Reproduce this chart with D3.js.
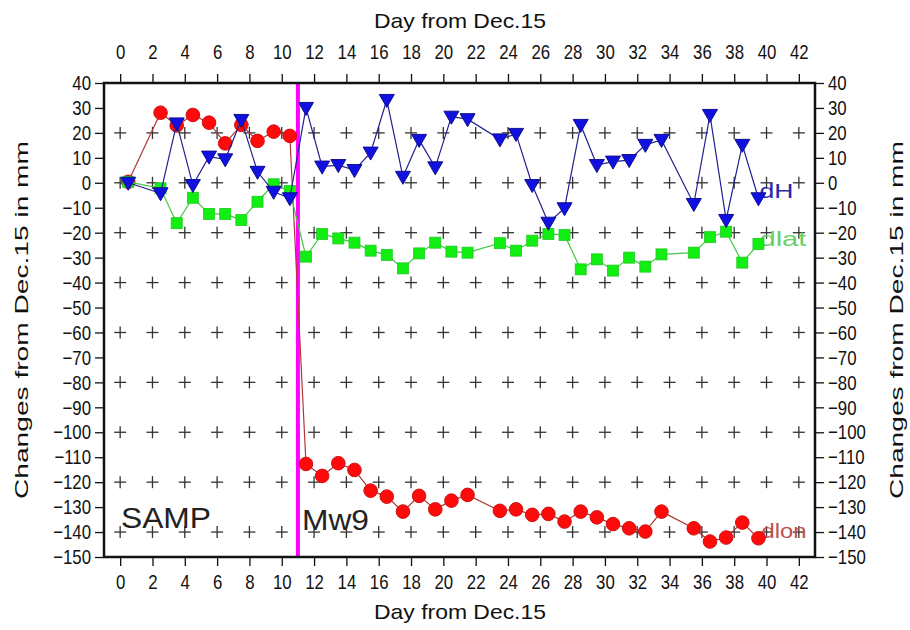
<!DOCTYPE html>
<html>
<head>
<meta charset="utf-8">
<script src="https://cdn.jsdelivr.net/npm/d3@7"></script>
<style>
  html, body { margin: 0; padding: 0; background: #fff; }
  svg { display: block; }
  text { font-family: "Liberation Sans", Arial, sans-serif; fill: #111; }
</style>
</head>
<body>
<svg id="chart" width="910" height="630"></svg>
<script>
// Days since Dec. 15 at which each daily solution is plotted
const days = [0.5, 2.5, 3.5, 4.5, 5.5, 6.5, 7.5, 8.5, 9.5, 10.5,
  11.5, 12.5, 13.5, 14.5, 15.5, 16.5, 17.5, 18.5, 19.5, 20.5, 21.5,
  23.5, 24.5, 25.5, 26.5, 27.5, 28.5, 29.5, 30.5, 31.5, 32.5, 33.5,
  35.5, 36.5, 37.5, 38.5, 39.5];

// Displacements in mm relative to Dec. 15
const dH = [0, -4.2, 23.8, -0.9, 10.5, 9.4, 25.2, 4.4, -3.6, -6.2,
  30, 6.5, 7.1, 5.1, 12.1, 33.2, 2.4, 17.2, 6.2, 26.5, 25.5,
  17.4, 19.6, -0.9, -16, -10.2, 23.2, 7.1, 8.5, 9.1, 15.2, 17.2,
  -8.5, 27.2, -14.9, 15.2, -6.2];
const dlat = [0.4, -2.2, -16.2, -6, -12.5, -12.5, -14.9, -7.6, -0.6, -3.3,
  -29.6, -20.5, -22.3, -24, -27.2, -28.9, -34.3, -28.3, -24, -27.6, -28,
  -24.2, -27.2, -23.2, -20.5, -20.9, -34.7, -30.7, -35.2, -30, -33.6, -28.7,
  -28, -21.8, -19.6, -32, -24.5];
const dlon = [0.4, 28.1, 23, 27.2, 24.1, 15.8, 23.2, 16.8, 20.5, 18.8,
  -112.7, -117.5, -112.4, -115.1, -123.4, -125.8, -131.8, -125.5, -130.9, -127.4, -125.1,
  -131.5, -130.9, -133.1, -132.7, -135.8, -131.8, -134.1, -136.8, -138.5, -139.8, -131.8,
  -138.5, -143.8, -142.2, -136.2, -142.5];

// Axis ticks
const xTicks = d3.range(0, 43, 2);
const yTicks = d3.range(-150, 41, 10);
const gridX = d3.range(0, 43, 2);
const gridY = d3.range(-140, 21, 20);

const quakeDay = 11;
const stationName = "SAMP";
const eventName = "Mw9";
const xTitle = "Day from Dec.15";
const yTitle = "Changes from Dec.15 in mm";

const svg = d3.select("#chart");
svg.append("rect").attr("width", 910).attr("height", 630).attr("fill", "#fff");

const x = d3.scaleLinear().domain([-1, 43]).range([104, 815]);
const y = d3.scaleLinear().domain([-150, 40]).range([557, 83]);

// Narrow the glyphs of a text selection to a share of their natural width
function condense(sel, factor) {
  sel.each(function () {
    const w = this.getComputedTextLength();
    d3.select(this).attr("textLength", w * factor).attr("lengthAdjust", "spacingAndGlyphs");
  });
}

// "+" grid marks
const cross = svg.append("g").attr("stroke", "#333").attr("stroke-width", 1.3);
gridY.forEach(v => gridX.forEach(d => {
  const cx = x(d), cy = y(v);
  cross.append("line").attr("x1", cx - 6).attr("x2", cx + 6).attr("y1", cy).attr("y2", cy);
  cross.append("line").attr("x1", cx).attr("x2", cx).attr("y1", cy - 6).attr("y2", cy + 6);
}));

// Axes
function styleAxis(g) {
  g.selectAll("path").remove();
  g.selectAll("line").attr("stroke", "#111").attr("stroke-width", 1.3);
  g.selectAll("text").attr("font-size", 21).attr("fill", "#000")
    .style("font-family", '"Liberation Sans", Arial, sans-serif')
    .call(condense, 0.8);
}
svg.append("g").attr("transform", `translate(0,${y(-150)})`)
  .call(d3.axisBottom(x).tickValues(xTicks).tickSize(9).tickPadding(8)).call(styleAxis);
svg.append("g").attr("transform", `translate(0,${y(40)})`)
  .call(d3.axisTop(x).tickValues(xTicks).tickSize(9).tickPadding(15)).call(styleAxis);
svg.append("g").attr("transform", `translate(${x(-1)},0)`)
  .call(d3.axisLeft(y).tickValues(yTicks).tickSize(9).tickPadding(4)).call(styleAxis);
svg.append("g").attr("transform", `translate(${x(43)},0)`)
  .call(d3.axisRight(y).tickValues(yTicks).tickSize(9).tickPadding(4)).call(styleAxis);

// Axis titles
svg.append("text").attr("x", 460).attr("y", 28).attr("text-anchor", "middle")
  .attr("font-size", 21).text(xTitle)
  .attr("textLength", 172).attr("lengthAdjust", "spacingAndGlyphs");
svg.append("text").attr("x", 460).attr("y", 619).attr("text-anchor", "middle")
  .attr("font-size", 21).text(xTitle)
  .attr("textLength", 172).attr("lengthAdjust", "spacingAndGlyphs");
const midY = (y(40) + y(-150)) / 2;
svg.append("text").attr("transform", `translate(28,${midY}) rotate(-90)`)
  .attr("text-anchor", "middle").attr("font-size", 19).text(yTitle)
  .attr("textLength", 358).attr("lengthAdjust", "spacingAndGlyphs");
svg.append("text").attr("transform", `translate(903,${midY}) rotate(-90)`)
  .attr("text-anchor", "middle").attr("font-size", 19).text(yTitle)
  .attr("textLength", 358).attr("lengthAdjust", "spacingAndGlyphs");

// Earthquake marker
svg.append("line").attr("x1", x(quakeDay)).attr("x2", x(quakeDay))
  .attr("y1", y(40)).attr("y2", y(-150))
  .attr("stroke", "#ff00ff").attr("stroke-width", 4);

// Series labels sit just right of the last day, under the markers
const lastX = x(days[days.length - 1]);
const labelFont = '"Liberation Sans", Arial, sans-serif';
svg.append("text").attr("x", lastX + 1).attr("y", 198)
  .attr("font-size", 21).style("fill", "#2a2aa8").style("font-family", labelFont)
  .text("dH").attr("textLength", 34).attr("lengthAdjust", "spacingAndGlyphs");
svg.append("text").attr("x", lastX + 1).attr("y", 246)
  .attr("font-size", 21).style("fill", "#66d066").style("font-family", labelFont)
  .text("dlat").attr("textLength", 47).attr("lengthAdjust", "spacingAndGlyphs");
svg.append("text").attr("x", lastX + 3).attr("y", 538)
  .attr("font-size", 21).style("fill", "#c05050").style("font-family", labelFont)
  .text("dlon").attr("textLength", 45).attr("lengthAdjust", "spacingAndGlyphs");

const line = vals => d3.line().x((d, i) => x(days[i])).y(d => y(d))(vals);

// dlon: red circles
svg.append("path").attr("d", line(dlon)).attr("fill", "none")
  .attr("stroke", "#b03838").attr("stroke-width", 1.2);
svg.append("g").selectAll("circle").data(dlon).join("circle")
  .attr("cx", (d, i) => x(days[i])).attr("cy", d => y(d)).attr("r", 6.8)
  .attr("fill", "#ff0a0a").attr("stroke", "#d01010").attr("stroke-width", 1);

// dlat: green squares
svg.append("path").attr("d", line(dlat)).attr("fill", "none")
  .attr("stroke", "#44c844").attr("stroke-width", 1.2);
svg.append("g").selectAll("rect").data(dlat).join("rect")
  .attr("x", (d, i) => x(days[i]) - 5.5).attr("y", d => y(d) - 5.5)
  .attr("width", 11).attr("height", 11)
  .attr("fill", "#11ee11").attr("stroke", "#22c822").attr("stroke-width", 0.8);

// dH: blue inverted triangles
svg.append("path").attr("d", line(dH)).attr("fill", "none")
  .attr("stroke", "#202090").attr("stroke-width", 1.2);
svg.append("g").selectAll("path").data(dH).join("path")
  .attr("transform", (d, i) => `translate(${x(days[i])},${y(d)})`)
  .attr("d", "M-7.5,-5.5L7.5,-5.5L0,7.5Z")
  .attr("fill", "#1010e0").attr("stroke", "#101090").attr("stroke-width", 1);

// Frame
svg.append("rect").attr("x", x(-1)).attr("y", y(40))
  .attr("width", x(43) - x(-1)).attr("height", y(-150) - y(40))
  .attr("fill", "none").attr("stroke", "#111").attr("stroke-width", 2.5);

// Station and event annotations
svg.append("text").attr("x", 121).attr("y", 528).attr("font-size", 29)
  .style("fill", "#222").text(stationName)
  .attr("textLength", 90).attr("lengthAdjust", "spacingAndGlyphs");
svg.append("text").attr("x", 302).attr("y", 530).attr("font-size", 29)
  .style("fill", "#222").text(eventName)
  .attr("textLength", 67).attr("lengthAdjust", "spacingAndGlyphs");
</script>
</body>
</html>
